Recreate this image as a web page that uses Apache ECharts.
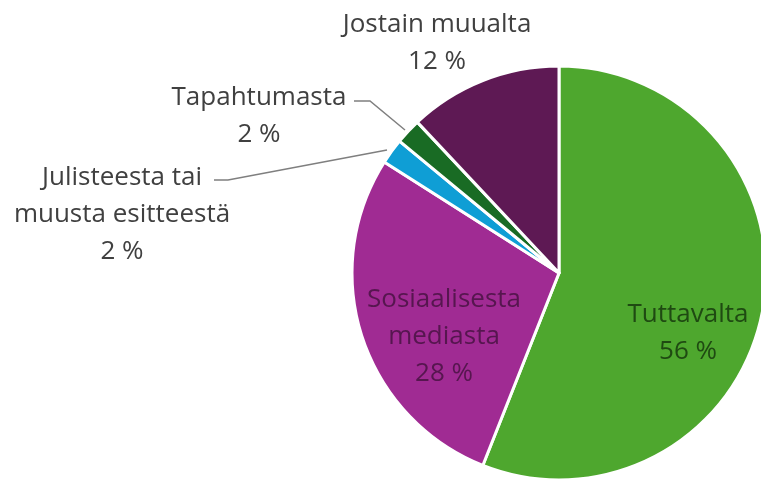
<!DOCTYPE html>
<html>
<head>
<meta charset="utf-8">
<script src="https://cdn.jsdelivr.net/npm/echarts@6/dist/echarts.min.js"></script>
<style>html,body{margin:0;padding:0;background:#fff}#c{width:761px;height:483px}</style>
</head>
<body>
<div id="c"></div>
<script>
const categories = ['Tuttavalta', 'Sosiaalisesta\nmediasta', 'Julisteesta tai\nmuusta esitteestä', 'Tapahtumasta', 'Jostain muualta'];
const values = [56, 28, 2, 2, 12];

const colors = ['#4EA72E', '#A02B93', '#0F9ED5', '#196B24', '#5E1954'];
const labelColors = ['#1F4A12', '#56164F', '#404040', '#404040', '#404040'];
const CX = 559, CY = 273, R = 207;
// label block centres and leader lines (layout only)
const labelPos = [
  { x: 688, y: 333, inside: true },
  { x: 444, y: 337, inside: true },
  { x: 122, y: 215, line: [[214, 180], [228, 180], [387, 150]] },
  { x: 259, y: 116, line: [[354, 101], [370, 101], [405, 130]] },
  { x: 437, y: 43 }
];

const chart = echarts.init(document.getElementById('c'), null, { renderer: 'canvas' });
chart.setOption({
  animation: false,
  series: [{
    type: 'pie',
    center: [CX, CY],
    radius: [0, R],
    startAngle: 90,
    clockwise: true,
    avoidLabelOverlap: false,
    itemStyle: { borderColor: '#ffffff', borderWidth: 3 },
    label: {
      show: true,
      position: 'outside',
      formatter: p => p.name + '\n' + p.value + ' %',
      fontFamily: 'Open Sans',
      fontSize: 26,
      lineHeight: 37,
      align: 'center',
      verticalAlign: 'middle'
    },
    labelLine: { show: true, length: 10, length2: 10, lineStyle: { color: '#7F7F7F', width: 1.5 } },
    labelLayout: function (params) {
      const p = labelPos[params.dataIndex];
      const o = { x: p.x, y: p.y, align: 'center', verticalAlign: 'middle' };
      if (p.line) o.labelLinePoints = p.line;
      return o;
    },
    emphasis: { disabled: true },
    data: categories.map((c, i) => ({
      name: c,
      value: values[i],
      itemStyle: { color: colors[i] },
      label: { color: labelColors[i], position: labelPos[i].inside ? 'inside' : 'outside' },
      labelLine: { show: !!labelPos[i].line }
    }))
  }]
});
</script>
</body>
</html>
